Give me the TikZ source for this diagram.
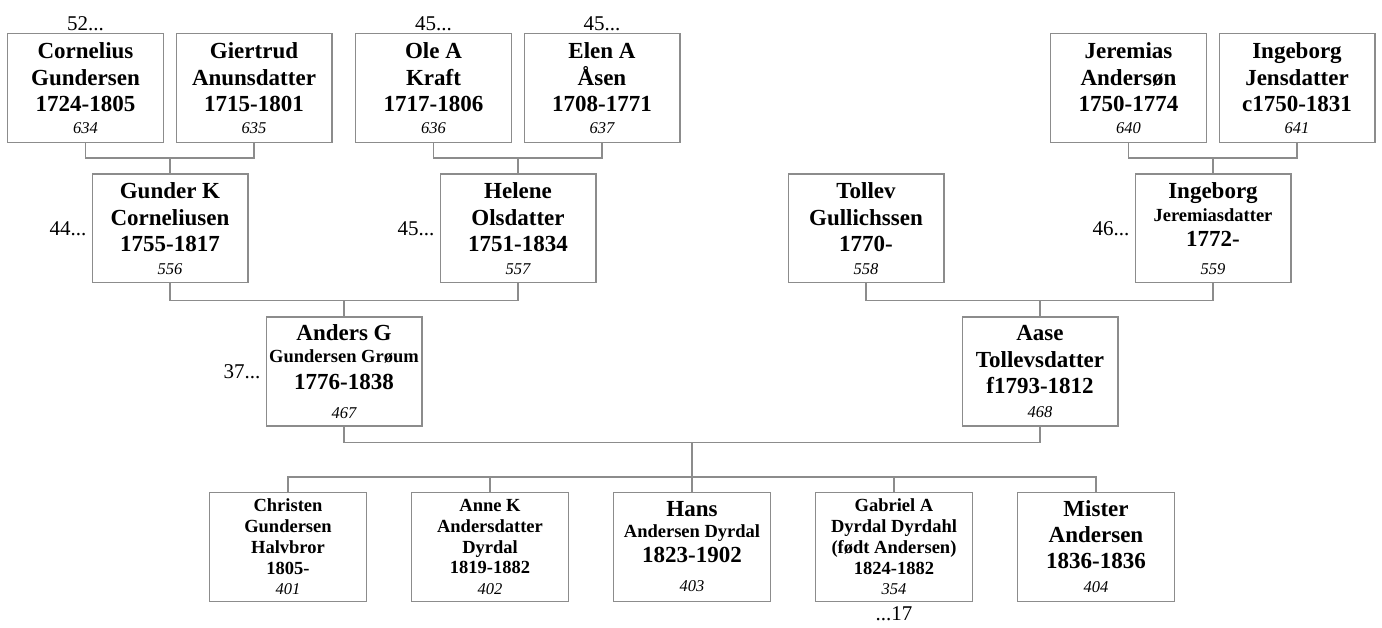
\documentclass[tikz,border=0pt]{standalone}
\usepackage{fontspec}
\setmainfont{Liberation Serif}
\usetikzlibrary{positioning, calc}
\definecolor{boxgray}{HTML}{8C8C8C}
\definecolor{linegray}{HTML}{8C8C8C}
\newcommand{\refno}[1]{{\normalfont\itshape\fontsize{16.5}{18}\selectfont #1}}
\newcommand{\subname}[1]{{\fontsize{18.5}{20}\selectfont #1}}

\begin{document}
\begin{tikzpicture}[x=1pt, y=-1pt,
  person/.style={
    rectangle, draw=boxgray, line width=1.3pt, fill=white,
    minimum width=155.7pt, minimum height=108.7pt,
    inner sep=1pt, align=center,
    font=\bfseries\fontsize{23}{26.5}\selectfont
  },
  kid/.style={person, minimum width=156.7pt,
    font=\bfseries\fontsize{18.5}{20.7}\selectfont},
  bigkid/.style={person, minimum width=156.7pt,
    font=\bfseries\fontsize{23}{26}\selectfont},
  link/.style={draw=linegray, line width=1.3pt},
  more/.style={font=\fontsize{21}{24}\selectfont, inner sep=1pt},
  node distance=11.5pt
]
\useasboundingbox (0,0) rectangle (1382,628);

% Great-grandparents
\node[person] (cornelius) at (85.5,88) {Cornelius\\Gundersen\\1724-1805\\[-5pt]\refno{634}};
\node[person, right=of cornelius] (giertrud) {Giertrud\\Anunsdatter\\1715-1801\\[-5pt]\refno{635}};
\node[person] (ole) at (433.5,88) {Ole A\\Kraft\\1717-1806\\[-5pt]\refno{636}};
\node[person, right=of ole] (elen) {Elen A\\Åsen\\1708-1771\\[-5pt]\refno{637}};
\node[person] (jeremias) at (1128.5,88) {Jeremias\\Andersøn\\1750-1774\\[-5pt]\refno{640}};
\node[person, right=of jeremias] (ingeborgj) {Ingeborg\\Jensdatter\\c1750-1831\\[-5pt]\refno{641}};

% Grandparents
\node[person] (gunder) at (170,228.5) {Gunder K\\Corneliusen\\1755-1817\\[-4pt]\refno{556}};
\node[person] (helene) at (518,228.5) {Helene\\Olsdatter\\1751-1834\\[-4pt]\refno{557}};
\node[person] (tollev) at (866,228.5) {Tollev\\Gullichssen\\1770-\\[-4pt]\refno{558}};
\node[person] (ingeborg) at (1213,228.5) {Ingeborg\\[-4pt]\subname{Jeremiasdatter}\\[-1pt]1772-\\[1pt]\refno{559}};

% Parents
\node[person] (anders) at (344,371.5) {Anders G\\[-4pt]\subname{Gundersen Grøum}\\1776-1838\\[3pt]\refno{467}};
\node[person] (aase) at (1040,371.5) {Aase\\Tollevsdatter\\f1793-1812\\[-3pt]\refno{468}};

% Children
\node[kid] (christen) at (288,547) {Christen\\Gundersen\\Halvbror\\1805-\\\refno{401}};
\node[kid, right=44pt of christen] (anne) {Anne K\\Andersdatter\\Dyrdal\\1819-1882\\\refno{402}};
\node[bigkid, right=44pt of anne] (hans) {Hans\\[-5pt]\subname{Andersen Dyrdal}\\[-1pt]1823-1902\\[3pt]\refno{403}};
\node[kid, right=44pt of hans] (gabriel) {Gabriel A\\Dyrdal Dyrdahl\\(født Andersen)\\1824-1882\\\refno{354}};
\node[bigkid, right=44pt of gabriel] (mister) {Mister\\Andersen\\1836-1836\\[-2pt]\refno{404}};

% More generations
\node[more, above=1pt of cornelius] (morecor) {52...};
\node[more, above=1pt of ole] (moreole) {45...};
\node[more, above=1pt of elen] (moreelen) {45...};
\node[more, left=4pt of gunder] (moregun) {44...};
\node[more, left=4pt of helene] (morehel) {45...};
\node[more, left=4pt of ingeborg] (moreing) {46...};
\node[more, left=4pt of anders] (moreand) {37...};
\node[more, below=3pt of gabriel] (moregab) {...17};

% Family lines
\draw[link] (cornelius.south) -- ++(0,-15pt) -| (giertrud.south);
\draw[link] (gunder.north) -- ++(0,15pt);
\draw[link] (ole.south) -- ++(0,-15pt) -| (elen.south);
\draw[link] (helene.north) -- ++(0,15pt);
\draw[link] (jeremias.south) -- ++(0,-15pt) -| (ingeborgj.south);
\draw[link] (ingeborg.north) -- ++(0,15pt);

\draw[link] (gunder.south) -- ++(0,-17pt) -| (helene.south);
\draw[link] (anders.north) -- ++(0,16pt);
\draw[link] (tollev.south) -- ++(0,-17pt) -| (ingeborg.south);
\draw[link] (aase.north) -- ++(0,16pt);

\draw[link] (anders.south) -- ++(0,-16pt) -| (aase.south);
\coordinate (fam) at ($(anders.south)!.5!(aase.south)+(0,-16pt)$);
\draw[link] (fam) -- (fam |- hans.north);
\draw[link] (christen.north) -- ++(0,15pt) -| (mister.north);
\draw[link] (anne.north) -- ++(0,15pt);
\draw[link] (gabriel.north) -- ++(0,15pt);

\end{tikzpicture}
\end{document}
